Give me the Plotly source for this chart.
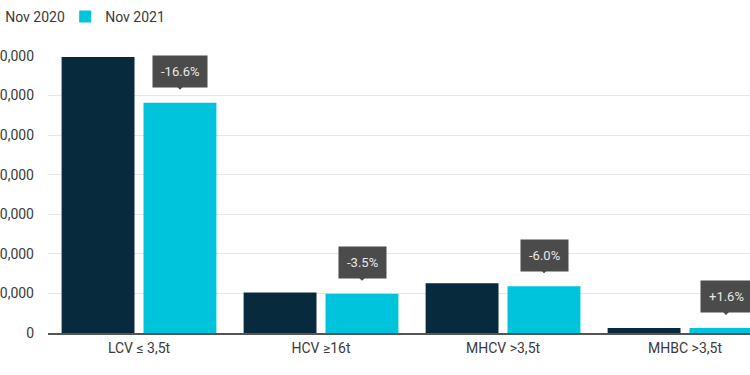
import plotly.graph_objects as go

categories = ["LCV ≤ 3,5t", "HCV ≥16t", "MHCV >3,5t", "MHBC >3,5t"]
nov_2020 = [139500, 20500, 25200, 2500]
nov_2021 = [116350, 19780, 23690, 2540]
changes = ["-16.6%", "-3.5%", "-6.0%", "+1.6%"]
y_ticks = [0, 20000, 40000, 60000, 80000, 100000, 120000, 140000]

DARK = "#082a3d"
CYAN = "#00c3dc"
TEXT = "#3a3a3a"
BOX = "#4b4b4b"

fig = go.Figure()
fig.add_trace(go.Bar(name="Nov 2020", x=categories, y=nov_2020, marker_color=DARK,
                     marker_line_width=0))
fig.add_trace(go.Bar(name="Nov 2021", x=categories, y=nov_2021, marker_color=CYAN,
                     marker_line_width=0))

for cat, val, lab in zip(categories, nov_2021, changes):
    fig.add_annotation(
        x=cat, y=val, xref="x", yref="y", text=lab,
        showarrow=True, ax=0, ay=-31, axref="pixel", ayref="pixel",
        arrowhead=1, arrowwidth=2, arrowsize=0.7, arrowcolor=BOX, standoff=13,
        bgcolor=BOX, borderpad=8, font=dict(family="Roboto", size=13, color="#e8e8e8"),
        xshift=41,
    )

fig.update_layout(
    width=750, height=375,
    margin=dict(l=48, r=0, t=56, b=42, autoexpand=False),
    paper_bgcolor="white", plot_bgcolor="white",
    barmode="group", bargap=0.1, bargroupgap=0.11,
    font=dict(family="Roboto", size=14, color=TEXT),
    showlegend=True,
    legend=dict(orientation="h", x=-0.118, xanchor="left", y=1.141, yanchor="middle",
                font=dict(family="Roboto", size=14, color=TEXT),
                itemwidth=30, traceorder="normal",
                entrywidth=55, entrywidthmode="pixels"),
    xaxis=dict(range=[-0.5, 3.357], showgrid=False, showline=True, linecolor="#555555",
               linewidth=1.5, ticks="", ticklabelstandoff=1,
               tickfont=dict(size=14, color=TEXT),
               automargin=False, fixedrange=True),
    yaxis=dict(range=[0, 140000], tickvals=y_ticks, tickformat=",", showgrid=True,
               gridcolor="#e6e6e6", gridwidth=1, zeroline=False, showline=False,
               ticks="", ticklabelstandoff=13, tickfont=dict(size=14, color=TEXT),
               automargin=False, fixedrange=True),
)

fig.write_html("out.html", config={"displayModeBar": False},
               post_script="document.body.style.margin='0';document.body.style.overflow='hidden';")
